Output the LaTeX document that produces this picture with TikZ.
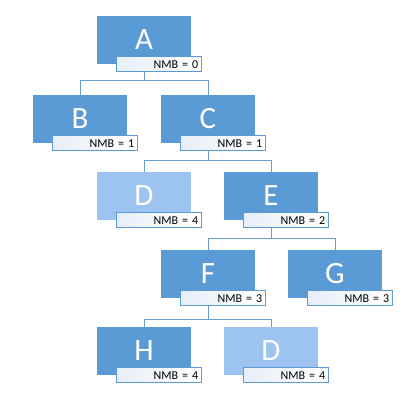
\documentclass[tikz,border=0pt]{standalone}
\usepackage{fontspec}
\setmainfont{Carlito}
\usetikzlibrary{backgrounds,calc}
\definecolor{dark}{HTML}{5B9BD5}
\definecolor{lite}{HTML}{9DC3F0}
\definecolor{lfill}{HTML}{E6EEF8}
\definecolor{edge}{HTML}{6A9FD4}
\tikzset{
  box/.style={rectangle, minimum width=94pt, minimum height=48pt, inner sep=0pt, fill=#1, text=white, font=\fontsize{31}{31}\selectfont},
  box/.default=dark,
  tag/.style={rectangle, draw=dark, line width=0.8pt, left color=lfill, right color=white, minimum width=85pt, minimum height=15pt, inner sep=0pt, text width=79pt, align=right, font=\fontsize{12}{12}\selectfont},
  link/.style={draw=edge, line width=0.9pt}
}
\begin{document}
\begin{tikzpicture}[x=1pt,y=-1pt]
\useasboundingbox (0,0) rectangle (416,408);
\node[box] (A) at (144,40) {A};
\node[box] (B) at (80,119) {B};
\node[box] (C) at (208,119) {C};
\node[box=lite] (D) at (144,196) {D};
\node[box] (E) at (271,196) {E};
\node[box] (F) at (208,274) {F};
\node[box] (G) at (335,274) {G};
\node[box] (H) at (144,351) {H};
\node[box=lite] (D2) at (271,351) {D};
\foreach \n/\v in {A/0,B/1,C/1,D/4,E/2,F/3,G/3,H/4,D2/4}{
  \node[tag] (t\n) at ($(\n.south east)+(-32.5,0)$) {NMB = \v};
}
\begin{pgfonlayer}{background}
\draw[link] (A.south) -- ++(0,16) -| (B.north);
\draw[link] (A.south) -- ++(0,16) -| (C.north);
\draw[link] (C.south) -- ++(0,17) -| (D.north);
\draw[link] (C.south) -- ++(0,17) -| (E.north);
\draw[link] (E.south) -- ++(0,18) -| (F.north);
\draw[link] (E.south) -- ++(0,18) -| (G.north);
\draw[link] (F.south) -- ++(0,21) -| (H.north);
\draw[link] (F.south) -- ++(0,21) -| (D2.north);
\end{pgfonlayer}
\end{tikzpicture}
\end{document}
